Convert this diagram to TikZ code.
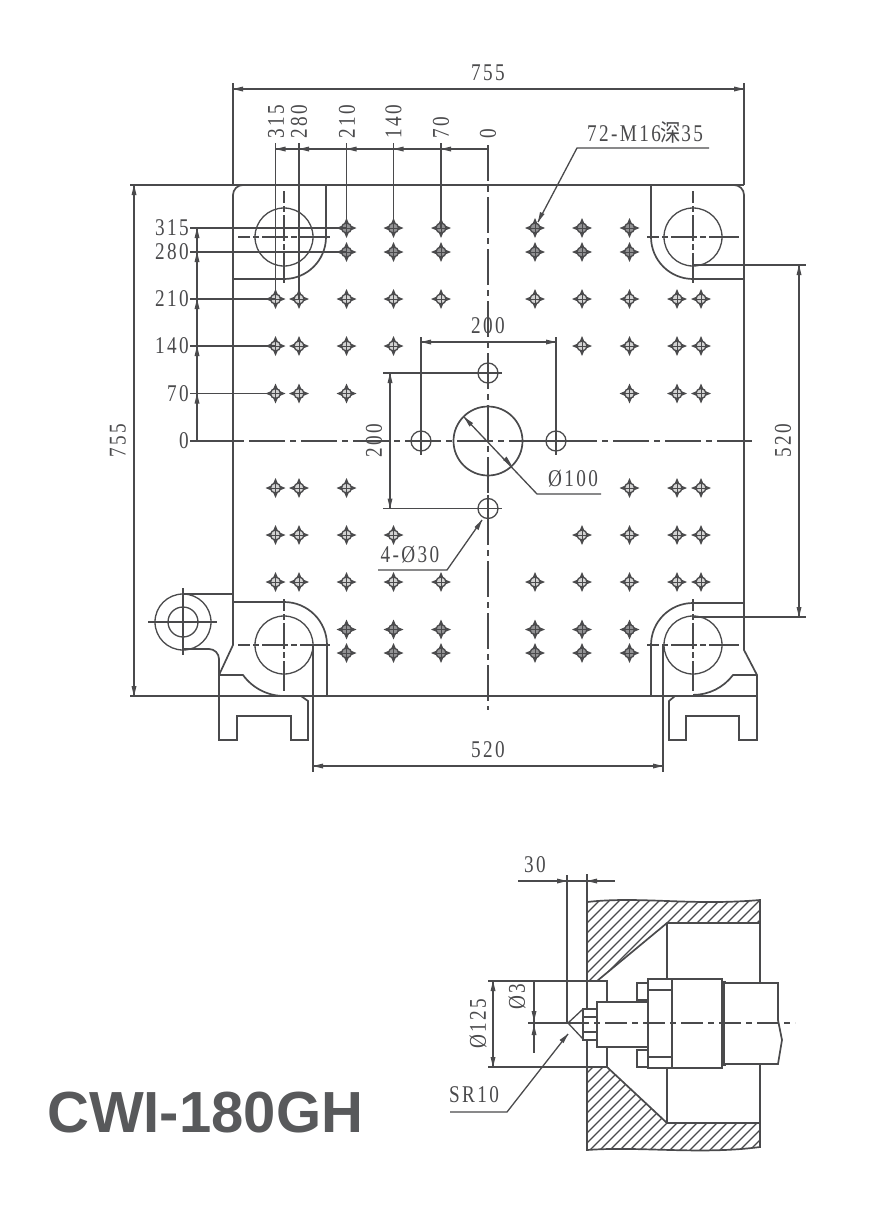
\documentclass[tikz,border=0pt]{standalone}
\usepackage{fontspec}
\setmainfont[FakeStretch=0.8,LetterSpace=10]{Liberation Serif}
\newfontfamily\titlefont{Liberation Sans}
\newfontfamily\cjkfont[FakeStretch=0.85]{Noto Sans CJK SC}
\definecolor{inkcol}{HTML}{4A4A4C}
\definecolor{titlecol}{HTML}{58595B}
\begin{document}
\begin{tikzpicture}[x=1pt,y=-1pt]
	\tikzstyle{every node}+=[inner sep=0pt,text=inkcol,font=\fontsize{24}{24}\selectfont]
	\tikzstyle{plate}=[draw=inkcol,line width=1.7pt]
	\tikzstyle{dimline}=[draw=inkcol,line width=1.3pt]
	\tikzstyle{centre}=[draw=inkcol,line width=1.4pt,dash pattern=on 36pt off 5pt on 6pt off 5pt]
	\tikzstyle{barcentre}=[draw=inkcol,line width=1.4pt,dash pattern=on 12pt off 3pt on 6pt off 3pt on 26pt off 3pt on 6pt off 3pt on 40pt off 10pt]
	\useasboundingbox (0,0) rectangle (896,1218);
	\fill [white] (0,0) rectangle (896,1218);
	% plate outline
	\draw [plate] (233,195) arc (180:270:10) -- (734,185) arc (270:360:10) -- (744,650) -- (757,675) -- (757,740) -- (739,740) -- (739,716) -- (686,716) -- (686,740) -- (669,740) -- (669,701) -- (675,696);
	\draw [plate] (233,195) -- (233,645) -- (219,675) -- (219,740) -- (237,740) -- (237,716) -- (291,716) -- (291,740) -- (308,740) -- (308,701) -- (301,696);
	\draw [plate] (130,185) -- (744,185);
	\draw [plate] (130,696) -- (757,696);
	% tie bar recesses
	\draw [plate] (326,185) -- (326,237) arc (0:90:42) -- (233,279);
	\draw [plate] (651,185) -- (651,237) arc (180:90:42) -- (744,279);
	\draw [plate] (327,696) -- (327,645) arc (0:-90:43) -- (233,602);
	\draw [plate] (651,696) -- (651,645) arc (180:270:42) -- (744,603);
	\draw [plate] (219,675) -- (243,675) arc (144:90:51);
	\draw [plate] (757,675) -- (733,675) arc (37:90:50);
	% tie bars
	\foreach \xpos/\ypos in {284/237,693/237,284/645,693/645} {
		\draw [dimline] (\xpos,\ypos) circle (29);
		\draw [barcentre] (\xpos-46,\ypos) -- (\xpos+46,\ypos);
		\draw [barcentre] (\xpos,\ypos-46) -- (\xpos,\ypos+46);
	}
	% ear
	\draw [dimline] (183,622) circle (28);
	\draw [dimline] (183,622) circle (15);
	\draw [dimline] (148,622) -- (217,622);
	\draw [dimline] (183,588) -- (183,655);
	\draw [plate] (183,594) -- (233,594);
	\draw [plate] (183,649) -- (209,649) arc (270:360:10) -- (219,675);
	% main centre lines
	\draw [centre] (488,145) -- (488,710);
	\draw [centre] (197,441) -- (752,441);
	% tapped holes
	\foreach \ypos/\xlist/\holefill in {
		228/{346.5,393.5,441,535,582,629.5}/inkcol!60,
		252/{346.5,393.5,441,535,582,629.5}/inkcol!60,
		299/{275.5,299,346.5,393.5,441,535,582,629.5,677,701}/inkcol!25,
		346/{275.5,299,346.5,393.5,582,629.5,677,701}/inkcol!25,
		393.5/{275.5,299,346.5,629.5,677,701}/inkcol!25,
		488/{275.5,299,346.5,629.5,677,701}/inkcol!25,
		535/{275.5,299,346.5,393.5,582,629.5,677,701}/inkcol!25,
		582/{275.5,299,346.5,393.5,441,535,582,629.5,677,701}/inkcol!25,
		629.5/{346.5,393.5,441,535,582,629.5}/inkcol!60,
		653/{346.5,393.5,441,535,582,629.5}/inkcol!60} {
		\foreach \xpos in \xlist {
			\fill [inkcol] (\xpos-10,\ypos) -- (\xpos-3,\ypos-3) -- (\xpos,\ypos-10) -- (\xpos+3,\ypos-3) -- (\xpos+10,\ypos) -- (\xpos+3,\ypos+3) -- (\xpos,\ypos+10) -- (\xpos-3,\ypos+3) -- cycle;
			\draw [dimline,fill=\holefill] (\xpos,\ypos) circle (5);
			\draw [dimline,line width=0.9pt] (\xpos-5,\ypos) -- (\xpos+5,\ypos);
			\draw [dimline,line width=0.9pt] (\xpos,\ypos-5) -- (\xpos,\ypos+5);
		}
	}
	% centre holes
	\foreach \xpos/\ypos in {488/373,488/508.5,421/441,556/441} {
		\draw [dimline,fill=white] (\xpos,\ypos) circle (10);
		\draw [dimline] (\xpos-14,\ypos) -- (\xpos+14,\ypos);
		\draw [dimline] (\xpos,\ypos-14) -- (\xpos,\ypos+14);
	}
	\draw [plate] (488,441) circle (34.5);
	% overall dimensions
	\draw [dimline] (233,83) -- (233,185);
	\draw [dimline] (744,83) -- (744,185);
	\draw [dimline] (233,89) -- (744,89);
	\fill [inkcol] (233,89) -- (243,86.5) -- (243,91.5);
	\fill [inkcol] (744,89) -- (734,86.5) -- (734,91.5);
	\node (widthlabel) at (488,73) {755};
	\draw [dimline] (134,185) -- (134,696);
	\fill [inkcol] (134,185) -- (131.5,195) -- (136.5,195);
	\fill [inkcol] (134,696) -- (131.5,686) -- (136.5,686);
	\node [rotate=90] (heightlabel) at (118,441) {755};
	% column scale
	\draw [dimline] (275.5,149) -- (488,149);
	\draw [dimline] (275.5,143) -- (275.5,299);
	\draw [dimline] (299,143) -- (299,299);
	\foreach \xpos in {346.5,393.5,441} {
		\draw [dimline] (\xpos,143) -- (\xpos,228);
	}
	\foreach \xpos in {275.5,299,346.5,393.5,441} {
		\fill [inkcol] (\xpos,149) -- (\xpos+10,146.5) -- (\xpos+10,151.5);
	}
	\foreach \xpos/\collabel/\colname in {276/315/colA,299/280/colB,347/210/colC,393.5/140/colD,441/70/colE,488/0/colF} {
		\node [rotate=90,anchor=west] (\colname) at (\xpos,139) {\collabel};
	}
	% row scale
	\draw [dimline] (197,228) -- (197,441);
	\draw [dimline] (190,228) -- (346.5,228);
	\draw [dimline] (190,252) -- (346.5,252);
	\draw [dimline] (190,441) -- (240,441);
	\foreach \ypos in {299,346,393.5} {
		\draw [dimline] (190,\ypos) -- (275.5,\ypos);
	}
	\foreach \ypos in {228,252,299,346,393.5} {
		\fill [inkcol] (197,\ypos) -- (194.5,\ypos+10) -- (199.5,\ypos+10);
	}
	\foreach \ypos/\rowlabel/\rowname in {228/315/rowA,252/280/rowB,299/210/rowC,346/140/rowD,393.5/70/rowE,441/0/rowF} {
		\node [anchor=east] (\rowname) at (189,\ypos) {\rowlabel};
	}
	% centre hole dimensions
	\draw [dimline] (421,337) -- (421,431);
	\draw [dimline] (556,337) -- (556,431);
	\draw [dimline] (421,342) -- (556,342);
	\fill [inkcol] (421,342) -- (431,339.5) -- (431,344.5);
	\fill [inkcol] (556,342) -- (546,339.5) -- (546,344.5);
	\node (holewidth) at (488,326) {200};
	\draw [dimline] (383,373) -- (478,373);
	\draw [dimline] (383,508.5) -- (478,508.5);
	\draw [dimline] (390,373) -- (390,508.5);
	\fill [inkcol] (390,373) -- (387.5,383) -- (392.5,383);
	\fill [inkcol] (390,508.5) -- (387.5,498.5) -- (392.5,498.5);
	\node [rotate=90] (holeheight) at (374,441) {200};
	% leaders
	\draw [dimline] (709,148) -- (577,148) -- (538,222);
	\fill [inkcol] (538,222) -- (540,212) -- (544.5,214);
	\node (threadlabel) at (645,132) {72-M16{\cjkfont 深}35};
	\draw [dimline] (464,417) -- (537,494) -- (601,494);
	\fill [inkcol] (464,417) -- (473,423) -- (469.5,426.5);
	\fill [inkcol] (512,466) -- (503,460) -- (506.5,456.5);
	\node (borelabel) at (573,479) {Ø100};
	\draw [dimline] (378,570) -- (447,570) -- (482,520);
	\fill [inkcol] (482,520) -- (478.5,530) -- (474.5,527);
	\node (smallbore) at (410,555) {4-Ø30};
	% 520 dimensions
	\draw [dimline] (313,645) -- (313,772);
	\draw [dimline] (663,645) -- (663,772);
	\draw [dimline] (313,766) -- (663,766);
	\fill [inkcol] (313,766) -- (323,763.5) -- (323,768.5);
	\fill [inkcol] (663,766) -- (653,763.5) -- (653,768.5);
	\node (pitchx) at (488,750) {520};
	\draw [dimline] (693,265) -- (806,265);
	\draw [dimline] (693,617) -- (806,617);
	\draw [dimline] (799,265) -- (799,617);
	\fill [inkcol] (799,265) -- (796.5,275) -- (801.5,275);
	\fill [inkcol] (799,617) -- (796.5,607) -- (801.5,607);
	\node [rotate=90] (pitchy) at (783,441) {520};
	% section, hatched parts
	\begin{scope}
		\clip (587,902) .. controls (640,896) and (690,906) .. (760,900) -- (760,923) -- (667,923) -- (597,981) -- (587,981) -- cycle;
		\foreach \hatchx in {480,490,...,800} {
			\draw [dimline] (\hatchx,990) -- (\hatchx+100,890);
		}
	\end{scope}
	\begin{scope}
		\clip (587,1067) -- (607,1067) -- (667,1123) -- (760,1123) -- (760,1147) .. controls (700,1155) and (640,1146) .. (587,1150) -- cycle;
		\foreach \hatchx in {480,490,...,800} {
			\draw [dimline] (\hatchx,1160) -- (\hatchx+100,1060);
		}
	\end{scope}
	\draw [plate] (587,902) .. controls (640,896) and (690,906) .. (760,900) -- (760,1147) .. controls (700,1155) and (640,1146) .. (587,1150) -- cycle;
	\draw [plate] (760,923) -- (667,923) -- (597,981);
	\draw [plate] (667,923) -- (667,981);
	\draw [plate] (760,1123) -- (667,1123) -- (607,1067);
	\draw [plate] (667,1123) -- (667,1067);
	\draw [plate] (488,981) -- (607,981) -- (607,1067) -- (488,1067);
	% nozzle and flange
	\draw [plate,fill=white] (597,1002) rectangle (648,1047);
	\draw [plate,fill=white] (648,979) rectangle (672,1068);
	\draw [plate,fill=white] (672,979) rectangle (722,1068);
	\draw [plate,line width=3pt] (724,981) -- (724,1066);
	\draw [plate,fill=white] (725,983) -- (778,983) -- (778,1020) -- (782,1040) -- (778,1064) -- (725,1064);
	\draw [plate] (637,983) rectangle (648,1000);
	\draw [plate] (637,1050) rectangle (648,1067);
	\draw [dimline] (648,990) -- (672,990);
	\draw [dimline] (648,1057) -- (672,1057);
	\draw [plate,fill=white] (583,1009) rectangle (597,1040);
	\draw [dimline] (583,1017) -- (597,1017);
	\draw [dimline] (583,1032) -- (597,1032);
	\draw [dimline] (583,1009) -- (568,1023) -- (583,1039);
	\draw [plate,line width=2.4pt] (528,1023) -- (567,1023);
	\draw [centre,dash pattern=on 22pt off 5pt on 6pt off 5pt] (567,1023) -- (795,1023);
	% section dimensions
	\draw [dimline] (567,875) -- (567,1023);
	\draw [dimline] (587,874) -- (587,902);
	\draw [dimline] (518,881) -- (615,881);
	\fill [inkcol] (567,881) -- (557,878.5) -- (557,883.5);
	\fill [inkcol] (587,881) -- (597,878.5) -- (597,883.5);
	\node (reachlabel) at (535,865) {30};
	\draw [dimline] (493,981) -- (493,1067);
	\fill [inkcol] (493,981) -- (490.5,991) -- (495.5,991);
	\fill [inkcol] (493,1067) -- (490.5,1057) -- (495.5,1057);
	\node [rotate=90] (bushlabel) at (478,1024) {Ø125};
	\draw [dimline] (534,982) -- (534,1053);
	\fill [inkcol] (534,1021) -- (531.5,1011) -- (536.5,1011);
	\fill [inkcol] (534,1025) -- (531.5,1035) -- (536.5,1035);
	\node [rotate=90] (tiplabel) at (517,997) {Ø3};
	\draw [dimline] (450,1112) -- (507,1112) -- (568,1034);
	\fill [inkcol] (568,1034) -- (563.5,1043) -- (559.5,1040);
	\node (radiuslabel) at (474,1095) {SR10};
	\node [anchor=base west,font=\titlefont\bfseries\fontsize{58}{58}\selectfont,text=titlecol] (modelname) at (47,1132) {CWI-180GH};
\end{tikzpicture}
\end{document}
